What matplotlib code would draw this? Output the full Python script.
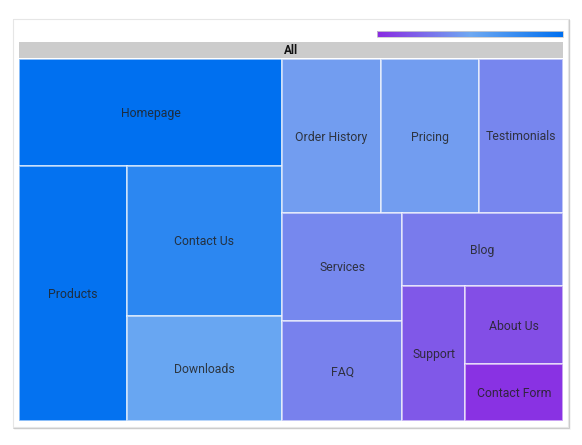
import matplotlib.pyplot as plt
from matplotlib.patches import Rectangle
from matplotlib.colors import LinearSegmentedColormap
import numpy as np

plt.rcParams['font.family'] = ['Roboto', 'DejaVu Sans']

# data
pages = ["Homepage", "Products", "Contact Us", "Downloads", "Order History",
         "Pricing", "Testimonials", "Services", "FAQ", "Blog", "Support",
         "About Us", "Contact Form"]
visits = [5000, 4900, 4150, 2900, 2700, 2700, 2300, 2300, 2150, 2100, 1500,
          1350, 1000]
# colour metric (min -> purple, mid -> light blue, max -> blue)
score = [100, 98, 80, 53, 45, 45, 36, 37, 34, 32, 18, 14, 3]
root_label = "All"

min_color = "#8a2be2"
mid_color = "#6fa9f2"
max_color = "#0070f0"
cmap = LinearSegmentedColormap.from_list("tm", [min_color, mid_color, max_color])


def split_layout(vals, x, y, w, h, out):
    # recursive half split: biggest prefix whose sum stays under half
    if len(vals) == 1:
        out.append((vals[0][0], x, y, w, h))
        return
    total = sum(v for _, v in vals)
    k, acc = 1, vals[0][1]
    while k < len(vals) - 1 and acc + vals[k][1] <= total / 2:
        acc += vals[k][1]
        k += 1
    frac = acc / total
    if w >= h:
        split_layout(vals[:k], x, y, w * frac, h, out)
        split_layout(vals[k:], x + w * frac, y, w * (1 - frac), h, out)
    else:
        split_layout(vals[:k], x, y, w, h * frac, out)
        split_layout(vals[k:], x, y + h * frac, w, h * (1 - frac), out)


fig = plt.figure(figsize=(5.82, 4.45), dpi=100)
ax = fig.add_axes([0, 0, 1, 1])
ax.set_xlim(0, 582)
ax.set_ylim(445, 0)
ax.axis("off")

# card with shadow
for i, a in enumerate([0.05, 0.08, 0.12]):
    ax.add_patch(Rectangle((13 + 1.5 - i * 0.5, 19 + 1.5 - i * 0.5), 555, 408,
                           facecolor="none", edgecolor=(0, 0, 0, a), lw=1.2))
ax.add_patch(Rectangle((13, 19), 555, 408, facecolor="white",
                       edgecolor="#e6e6e6", lw=0.8))

# colour scale
grad = np.linspace(0, 1, 256).reshape(1, -1)
ax.imshow(grad, cmap=cmap, extent=(377, 563, 37, 31), aspect="auto", zorder=3)
ax.add_patch(Rectangle((377, 31), 186, 6, facecolor="none", edgecolor="#cccccc",
                       lw=0.6, zorder=4))

# header
ax.add_patch(Rectangle((19, 42), 544, 16, facecolor="#cccccc", edgecolor="none"))
ax.text(291, 50.5, root_label, ha="center", va="center", fontsize=8.5,
        fontweight="bold", color="#111111")

rects = []
split_layout(list(zip(range(len(pages)), visits)), 19, 59, 544, 362, rects)
for idx, x, y, w, h in rects:
    c = cmap(score[idx] / 100)
    ax.add_patch(Rectangle((x, y), w, h, facecolor=c,
                           edgecolor=(1, 1, 1, 0.6), lw=1.3))
    ax.text(x + w / 2, y + h / 2 + 1, pages[idx], ha="center", va="center",
            fontsize=8.8, color="#222222", alpha=0.85)

fig.savefig("out.png", dpi=100, facecolor="white")
